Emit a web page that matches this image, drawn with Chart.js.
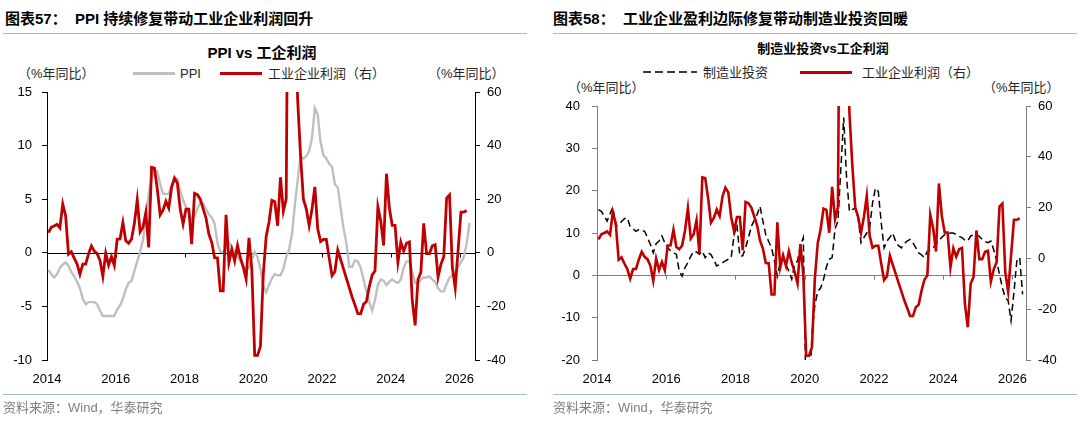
<!DOCTYPE html>
<html>
<head>
<meta charset="utf-8">
<script src="https://cdn.jsdelivr.net/npm/chart.js@4.4.1/dist/chart.umd.min.js"></script>
<style>
  body { margin: 0; width: 1080px; height: 423px; background: #fff; position: relative; overflow: hidden;
         font-family: "Liberation Sans", Arial, "Noto Sans CJK SC", sans-serif; color: #000; }
  .abs { position: absolute; white-space: nowrap; line-height: 1; }
  .figtitle { font-size: 15px; font-weight: bold; top: 11px; }
  .rule { position: absolute; height: 1px; background: #a3bbd9; }
  .ctitle { font-weight: bold; transform: translateX(-50%); }
  .txt { font-size: 13px; color: #262626; }
  .src { font-size: 13px; color: #808080; top: 401px; }
  .swatch { position: absolute; height: 3px; }
  canvas { position: absolute; }
</style>
</head>
<body>

<!-- left panel -->
<div class="abs figtitle" style="left:5px;">图表57：&nbsp; PPI 持续修复带动工业企业利润回升</div>
<div class="rule" style="left:3px; width:524px; top:33px;"></div>
<div class="abs ctitle" style="left:262px; top:45px; font-size:15px;">PPI vs 工企利润</div>
<div class="abs txt" style="left:18px; top:67px;">（%年同比）</div>
<div class="abs txt" style="left:428px; top:67px;">（%年同比）</div>
<div class="swatch" style="left:133px; width:42px; top:72px; background:#bfbfbf;"></div>
<div class="abs txt" style="left:180px; top:67px;">PPI</div>
<div class="swatch" style="left:220px; width:42px; top:72px; background:#c00000;"></div>
<div class="abs txt" style="left:268px; top:67px;">工业企业利润（右）</div>
<canvas id="ppiChart" width="540" height="320" style="left:0; top:80px;"></canvas>
<div class="rule" style="left:3px; width:524px; top:394px;"></div>
<div class="abs src" style="left:3px;">资料来源：Wind，华泰研究</div>

<!-- right panel -->
<div class="abs figtitle" style="left:553px;">图表58：&nbsp; 工业企业盈利边际修复带动制造业投资回暖</div>
<div class="rule" style="left:553px; width:524px; top:33px;"></div>
<div class="abs ctitle" style="left:823px; top:42px; font-size:13px;">制造业投资vs工企利润</div>
<svg style="position:absolute; left:643px; top:69px;" width="54" height="6">
  <line x1="0" y1="3" x2="54" y2="3" stroke="#000" stroke-width="1.5" stroke-dasharray="8,4"></line>
</svg>
<div class="abs txt" style="left:703px; top:66px;">制造业投资</div>
<div class="swatch" style="left:800px; width:52px; top:71px; background:#c00000;"></div>
<div class="abs txt" style="left:862px; top:66px;">工业企业利润（右）</div>
<div class="abs txt" style="left:568px; top:81px;">（%年同比）</div>
<div class="abs txt" style="left:983px; top:81px;">（%年同比）</div>
<canvas id="invChart" width="540" height="305" style="left:540px; top:95px;"></canvas>
<div class="rule" style="left:553px; width:524px; top:394px;"></div>
<div class="abs src" style="left:553px;">资料来源：Wind，华泰研究</div>

<script>
// monthly series, first point = 2014-01
const startYear = 2014;
const yearTicks = [2014, 2016, 2018, 2020, 2022, 2024, 2026];

// 工业企业利润 当月同比 (%)
const profit = [
  7.5, 9.5, 10.0, 10.6, 9.3, 18.2, 13.8, -0.5, 0.4, -2.0, -4.2, -8.0,
  -4.2, -4.2, -0.4, 2.6, 0.6, -0.3, -2.9, -8.8, -0.1, -4.6, -1.4, -4.7,
  5.1, 5.2, 11.3, 4.5, 3.6, 5.1, 11.0, 19.8, 7.8, 9.5, 15.0, 2.0,
  31.9, 31.6, 23.8, 14.1, 15.9, 19.2, 16.7, 24.4, 27.9, 26.0, 16.3, 10.7,
  16.3, 16.3, 3.2, 22.2, 21.7, 20.0, 16.5, 13.0, 7.0, 3.9, -1.8, -1.9,
  -14.2, -14.2, 14.2, -3.6, 1.2, -3.0, 2.8, -1.8, -5.3, -9.8, 5.6, -6.3,
  -38.3, -38.3, -34.9, -8.0, 6.0, 11.5, 19.6, 19.1, 10.1, 28.2, 15.5, 20.1,
  178.9, 178.9, 92.3, 57.0, 36.4, 20.0, 16.4, 10.1, 16.3, 24.6, 9.0, 4.2,
  5.0, 5.0, -2.0, -8.5, -7.0, 1.0, -2.5, -6.0, -9.5, -13.0, -16.5, -19.5,
  -22.7, -22.7, -19.2, -18.2, -12.6, -8.3, -6.7, 17.2, 11.9, 2.7, 29.5, 16.8,
  10.2, 10.2, -3.5, 4.0, 0.7, 3.6, 4.1, -17.8, -27.1, -10.0, -7.3, 11.0,
  -0.3, -0.3, 2.6, 3.0, -9.1, -4.3, -1.5, 20.4, 21.6, -5.5, -13.1, 1.0,
  15.2, 15.2, 15.8
];

// PPI 同比 (%)
const ppi = [
  -1.6, -2.0, -2.3, -2.0, -1.4, -1.1, -0.9, -1.2, -1.8, -2.2, -2.7, -3.3,
  -4.3, -4.8, -4.6, -4.6, -4.6, -4.8, -5.4, -5.9, -5.9, -5.9, -5.9, -5.9,
  -5.3, -4.9, -4.3, -3.4, -2.8, -2.6, -1.7, -0.8, 0.1, 1.2, 3.3, 5.5,
  6.9, 7.8, 7.6, 6.4, 5.5, 5.5, 5.5, 6.3, 6.9, 6.9, 5.8, 4.9,
  4.3, 3.7, 3.1, 3.4, 4.1, 4.7, 4.6, 4.1, 3.6, 3.3, 2.7, 0.9,
  0.1, 0.1, 0.4, 0.9, 0.6, 0.0, -0.3, -0.8, -1.2, -1.6, -1.4, -0.5,
  0.1, -0.4, -1.5, -3.1, -3.7, -3.0, -2.4, -2.0, -2.1, -2.1, -1.5, -0.4,
  0.3, 1.7, 4.4, 6.8, 9.0, 8.8, 9.0, 9.5, 10.7, 13.5, 12.9, 10.3,
  9.1, 8.8, 8.3, 8.0, 6.4, 6.1, 4.2, 2.3, 0.9, -1.3, -1.3, -0.7,
  -0.8, -1.4, -2.5, -3.6, -4.6, -5.4, -4.4, -3.0, -2.5, -2.6, -3.0, -2.7,
  -2.5, -2.7, -2.8, -2.5, -1.4, -0.8, -0.8, -1.8, -2.8, -2.9, -2.5, -2.3,
  -2.3, -2.2, -2.5, -2.7, -3.3, -3.6, -3.6, -2.9, -2.3, -2.1, -1.8, -1.3,
  -0.9, -0.4, 0.9, 2.8
];

// 制造业投资 同比 (%)
const mfgInv = [
  15.5, 15.1, 14.0, 12.8, 14.5, 16.1, 11.6, 12.0, 12.7, 13.4, 13.6, 11.5,
  11.0, 10.4, 10.8, 10.6, 10.4, 8.9, 7.3, 5.3, 7.5, 8.1, 9.3, 7.7,
  6.5, 5.8, 5.3, 5.0, 1.0, -0.2, 1.8, 3.0, 4.5, 5.7, 5.5, 5.0,
  5.7, 4.2, 5.3, 4.9, 3.6, 2.2, 2.6, 3.0, 3.4, 3.8, 4.2, 9.5,
  12.0, 4.5, 4.6, 6.5, 8.9, 11.6, 13.0, 14.4, 16.3, 12.8, 9.6, 8.0,
  6.5, 3.4, -0.2, 3.0, 4.2, 2.5, 1.0, -0.9, 2.6, 3.4, 7.0, 8.9,
  -31.5, -31.5, -14.0, -7.0, -3.8, -3.0, -1.0, 2.0, 3.8, 4.2, 11.0, 12.8,
  25.0, 37.3, 23.0, 15.1, 15.5, 15.9, 13.6, 7.7, 8.9, 10.0, 11.2, 17.1,
  20.6, 19.8, 12.4, 6.5, 8.1, 9.0, 10.0, 8.0, 7.0, 6.5, 7.5, 8.1,
  8.5, 7.7, 6.5, 5.3, 4.8, 4.2, 5.7, 6.0, 6.5, 7.5, 8.1, 9.0,
  9.6, 9.8, 10.0, 10.0, 9.6, 9.2, 8.9, 8.3, 8.1, 9.3, 9.5, 9.6,
  9.2, 8.5, 8.0, 7.7, 8.1, 6.0, 3.5, 0.2, -3.0, -5.3, -6.0, -10.7,
  -4.0, 3.4, 4.2, -4.5
];

// month index -> decimal year (mid-month)
const toPoints = arr => arr.map((v, i) => ({ x: startYear + (i + 0.5) / 12, y: v }));

const zeroLine = {
  id: "zeroLine",
  beforeDatasetsDraw(chart, args, opts) {
    const { ctx, chartArea, scales } = chart;
    const y = Math.round(scales.y.getPixelForValue(0)) + 0.5;
    ctx.save();
    ctx.strokeStyle = opts.color;
    ctx.lineWidth = 1;
    ctx.beginPath();
    ctx.moveTo(chartArea.left, y);
    ctx.lineTo(chartArea.right, y);
    yearTicks.slice(1).forEach(v => {
      const x = Math.round(scales.x.getPixelForValue(v)) + 0.5;
      ctx.moveTo(x, y);
      ctx.lineTo(x, y + 4);
    });
    ctx.stroke();
    ctx.restore();
  }
};

const tickFont = { family: "'Liberation Sans', Arial, sans-serif", size: 13 };

function yAxis(pos, min, max, step, width, pad, color) {
  return {
    position: pos,
    min: min,
    max: max,
    ticks: { stepSize: step, color: "#000", font: tickFont, padding: pad },
    grid: { drawOnChartArea: false, drawTicks: true, tickLength: 5, color: color },
    border: { display: true, color: color },
    afterFit: s => { s.width = width; s.paddingTop = 0; s.paddingBottom = 0; }
  };
}

function xAxis(max) {
  return {
    type: "linear",
    min: startYear,
    max: max,
    afterBuildTicks: s => { s.ticks = yearTicks.map(v => ({ value: v })); },
    ticks: { color: "#000", font: tickFont, padding: 4, maxRotation: 0, callback: v => String(v) },
    grid: { display: false },
    border: { display: false },
    afterFit: s => { s.height = 40; s.paddingLeft = 0; s.paddingRight = 0; }
  };
}

Chart.defaults.animation = false;

// ========================= PPI vs 工企利润 =========================
new Chart(document.getElementById("ppiChart"), {
  type: "line",
  data: {
    datasets: [
      { label: "工业企业利润（右）", data: toPoints(profit), yAxisID: "y2",
        borderColor: "#c00000", borderWidth: 2.8, pointRadius: 0, tension: 0 },
      { label: "PPI", data: toPoints(ppi), yAxisID: "y",
        borderColor: "#bfbfbf", borderWidth: 2.4, pointRadius: 0, tension: 0 }
    ]
  },
  options: {
    responsive: false,
    layout: { padding: { top: 12, left: 0, right: 0, bottom: 0 } },
    plugins: { legend: { display: false }, tooltip: { enabled: false }, zeroLine: { color: "#000" } },
    scales: {
      x: xAxis(2026.45),
      y: yAxis("left", -10, 15, 5, 47, 10, "#000"),
      y2: yAxis("right", -40, 60, 20, 65, 7, "#000")
    }
  },
  plugins: [zeroLine]
});

// ========================= 制造业投资 vs 工企利润 =========================
new Chart(document.getElementById("invChart"), {
  type: "line",
  data: {
    datasets: [
      { label: "工业企业利润（右）", data: toPoints(profit), yAxisID: "y2",
        borderColor: "#c00000", borderWidth: 2.6, pointRadius: 0, tension: 0 },
      { label: "制造业投资", data: toPoints(mfgInv), yAxisID: "y",
        borderColor: "#000", borderWidth: 1.5, borderDash: [7, 4], pointRadius: 0, tension: 0 }
    ]
  },
  options: {
    responsive: false,
    layout: { padding: { top: 11, left: 0, right: 0, bottom: 0 } },
    plugins: { legend: { display: false }, tooltip: { enabled: false }, zeroLine: { color: "#7f7f7f" } },
    scales: {
      x: xAxis(2026.39),
      y: yAxis("left", -20, 40, 10, 57, 12, "#7f7f7f"),
      y2: yAxis("right", -40, 60, 20, 54, 7, "#7f7f7f")
    }
  },
  plugins: [zeroLine]
});
</script>
</body>
</html>
